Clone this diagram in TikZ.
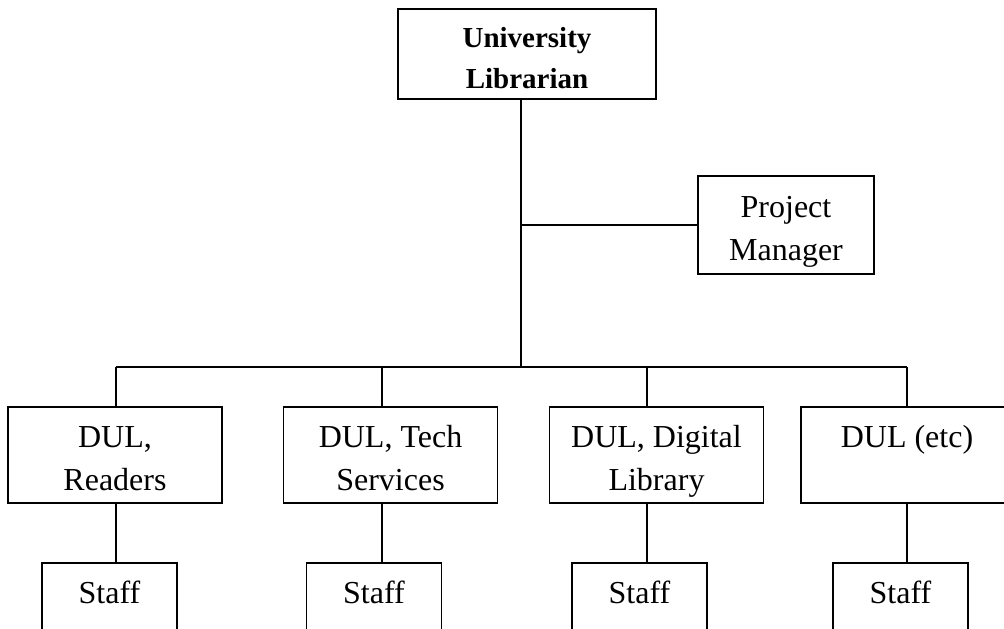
\documentclass[tikz,border=0pt]{standalone}
\usepackage{fontspec}
\setmainfont{Liberation Serif}

% two lines of text, with fixed ascent and depth
\newcommand{\twoline}[2]{\rule{0pt}{17.5pt}#1\\#2\rule[-4pt]{0pt}{0pt}}

\tikzset{
  unit/.style={draw, line width=0.9pt, align=center, inner sep=0pt,
    minimum width=107pt, minimum height=48pt,
    font=\fontsize{16}{21.5}\selectfont},
  lead/.style={unit, minimum width=129pt, minimum height=45pt,
    font=\fontsize{14.5}{20.5}\selectfont\bfseries},
  staffbox/.style={unit, minimum width=67.5pt},
  link/.style={line width=0.9pt},
  bus/.style={line width=0.6pt}
}

\begin{document}
\begin{tikzpicture}[x=0.5pt, y=-0.5pt]
        \useasboundingbox (0,0) rectangle (1004,628);
        % \draw[very thin,color=gray] (0,0) grid[step=100] (1004,628);
        \node[lead] (ul) at (527,54) {\twoline{University}{Librarian}};
        \node[unit, minimum width=88pt, minimum height=49pt] (pm) at (786,225) {\twoline{Project}{Manager}};
        \node[unit] (d1) at (115,455) {\twoline{DUL,}{Readers}};
        \node[unit] (d2) at (390.5,455) {\twoline{DUL, Tech}{Services}};
        \node[unit] (d3) at (656.5,455) {\twoline{DUL, Digital}{Library}};
        \node[unit, minimum width=130pt] (d4) at (931,455) {\twoline{DUL (etc)\hspace*{24pt}}{}};
        \node[staffbox] (s1) at (109.5,611) {\twoline{Staff}{}};
        \node[staffbox] (s2) at (374,611) {\twoline{Staff}{}};
        \node[staffbox] (s3) at (639.5,611) {\twoline{Staff}{}};
        \node[staffbox] (s4) at (900.5,611) {\twoline{Staff}{}};
        \coordinate (sp) at (521,367);
        \coordinate (t1) at (116,367);
        \coordinate (t2) at (382,367);
        \coordinate (t3) at (647,367);
        \coordinate (t4) at (907,367);
        \draw[link] (sp |- ul.south) -- (sp);
        \draw[link] (sp |- pm.west) -- (pm.west);
        \draw[bus] (t1) -- (t4);
        \foreach \i in {1,...,4}
            \draw[link] (t\i) -- (t\i |- d\i.north) (t\i |- d\i.south) -- (t\i |- s\i.north);
    \end{tikzpicture}
\end{document}
